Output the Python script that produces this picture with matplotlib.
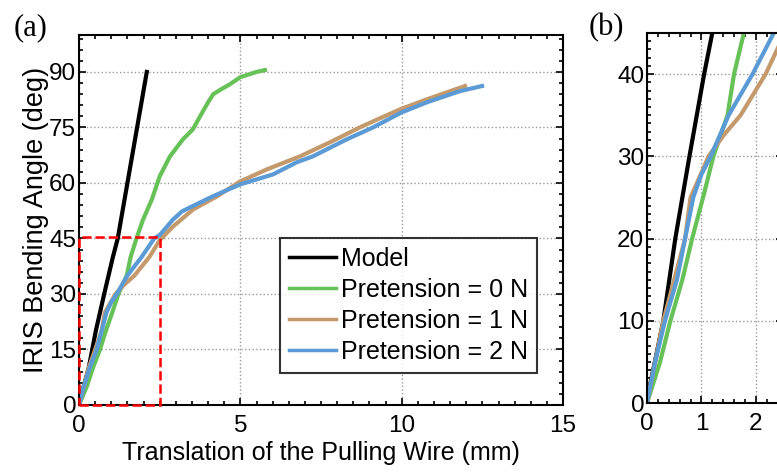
import numpy as np
import matplotlib
matplotlib.use("Agg")
import matplotlib.pyplot as plt
from matplotlib.patches import Rectangle
from matplotlib.ticker import MultipleLocator

plt.rcParams["font.family"] = ["Liberation Sans", "DejaVu Sans"]

model_x = [0, 0.05, 0.3, 0.52, 0.78, 1.05, 1.2, 1.5, 1.8, 2.1]
model_y = [0, 2, 10, 20, 30, 40, 45, 60, 75, 90]

p0_x = [0, 0.24, 0.43, 0.65, 0.83, 1.05, 1.22, 1.48, 1.6, 1.78, 1.98, 2.26, 2.5,
        2.82, 3.22, 3.53, 3.75, 4.0, 4.16, 4.4, 4.68, 5.0, 5.5, 5.76]
p0_y = [0, 5, 10, 15, 20, 25.5, 30, 35, 40, 45, 50, 55.6, 61.8,
        67.2, 71.8, 74.5, 78, 81.8, 84, 85.3, 86.7, 88.6, 90, 90.5]

p1_x = [0, 0.3, 0.5, 0.7, 0.8, 1.0, 1.13, 1.4, 1.72, 2.18, 2.5, 2.91, 3.53, 4.28,
        4.99, 5.83, 6.85, 7.78, 8.7, 9.33, 9.98, 10.78, 11.5, 11.96]
p1_y = [0, 10, 15, 20, 25, 28, 30, 32.5, 35, 40, 44.5, 48.2, 52.8, 56.4,
        60.4, 63.7, 67.2, 71, 75, 77.5, 80, 82.6, 84.8, 86.2]

p2_x = [0, 0.15, 0.33, 0.55, 0.7, 0.85, 1.0, 1.17, 1.5, 1.94, 2.33, 2.51, 2.91,
        3.19, 3.44, 4.15, 4.99, 6.01, 6.75, 7.25, 8.3, 9.11, 9.98, 10.78, 11.8, 12.49]
p2_y = [0, 5, 10, 15, 20, 25, 27.8, 30, 35, 40, 45, 46, 50.1,
        52.3, 53.4, 56.4, 59.6, 62.3, 65.6, 67.2, 71.8, 75, 79, 81.8, 84.8, 86.2]

zoom_w, zoom_h = 2.5, 45.5   # red box in (a) = range of (b)

series = [
    (model_x, model_y, "black", "Model"),
    (p0_x, p0_y, "#66c156", "Pretension = 0 N"),
    (p1_x, p1_y, "#c49a6c", "Pretension = 1 N"),
    (p2_x, p2_y, "#5b9bd5", "Pretension = 2 N"),
]

fig = plt.figure(figsize=(7.77, 4.72), dpi=100)
ax_a = fig.add_axes([0.1017, 0.142, 0.623, 0.784])
ax_b = fig.add_axes([0.8327, 0.146, 0.175, 0.784])


def style(ax, xmaj, xmin, ymaj, ymin):
    ax.xaxis.set_major_locator(MultipleLocator(xmaj))
    ax.xaxis.set_minor_locator(MultipleLocator(xmin))
    ax.yaxis.set_major_locator(MultipleLocator(ymaj))
    ax.yaxis.set_minor_locator(MultipleLocator(ymin))
    ax.tick_params(which="both", direction="in", top=True, right=True,
                   labelsize=17.5, width=1.2)
    ax.tick_params(axis="x", pad=7)
    ax.tick_params(axis="y", pad=2)
    ax.tick_params(which="major", length=5)
    ax.tick_params(which="minor", length=3)
    ax.grid(True, which="major", ls=":", color="#999999", lw=1.0)
    for sp in ax.spines.values():
        sp.set_linewidth(1.5)


for x, y, c, lab in series:
    ax_a.plot(x, y, color=c, lw=3, label=lab, solid_joinstyle="round")
    ax_b.plot(x, y, color=c, lw=3, solid_joinstyle="round")

ax_a.set_xlim(0, 15)
ax_a.set_ylim(0, 100)
style(ax_a, 5, 0.5, 15, 3)
ax_a.set_xlabel("Translation of the Pulling Wire (mm)", fontsize=18, labelpad=3)
ax_a.set_ylabel("IRIS Bending Angle (deg)", fontsize=19.5, labelpad=0)
ax_a.add_patch(Rectangle((0, 0), zoom_w, zoom_h, fill=False, ec="red", ls="--",
                         lw=1.8, clip_on=False, zorder=5))
leg = ax_a.legend(loc="lower right", bbox_to_anchor=(0.946, 0.0865), fontsize=18,
                  frameon=True, fancybox=False, edgecolor="black",
                  handlelength=1.9, handletextpad=0.2, borderpad=0.35,
                  labelspacing=0.28, borderaxespad=0)
leg.get_frame().set_linewidth(1.5)
for h in leg.get_lines():
    h.set_linewidth(2.5)

ax_b.set_xlim(0, zoom_w)
ax_b.set_ylim(0, 45)
style(ax_b, 1, 0.2, 10, 1)

fig.text(0.018, 0.925, "(a)", family="Liberation Serif", fontsize=22)
fig.text(0.757, 0.925, "(b)", family="Liberation Serif", fontsize=22)

fig.savefig("out.png", dpi=100)
